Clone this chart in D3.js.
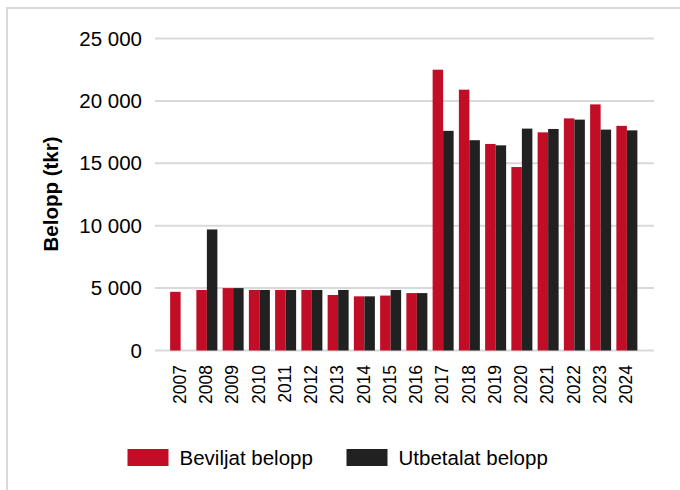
<!DOCTYPE html>
<html>
<head>
<meta charset="utf-8">
<script src="https://cdn.jsdelivr.net/npm/d3@7"></script>
<style>
  body { margin: 0; background: #fff; }
  svg { display: block; font-family: "Liberation Sans", Arial, sans-serif; }
</style>
</head>
<body>
<div id="chart"></div>
<script>
// data (tkr)
var years = ["2007","2008","2009","2010","2011","2012","2013","2014","2015","2016",
             "2017","2018","2019","2020","2021","2022","2023","2024"];
var beviljat = [4700, 4850, 5000, 4850, 4850, 4850, 4450, 4340, 4400, 4600,
                22500, 20900, 16550, 14700, 17480, 18600, 19720, 18000];
var utbetalat = [null, 9700, 5000, 4850, 4850, 4850, 4850, 4340, 4850, 4600,
                 17600, 16850, 16440, 17780, 17750, 18500, 17700, 17640];
var yTicks = [0, 5000, 10000, 15000, 20000, 25000];
var seriesNames = ["Beviljat belopp", "Utbetalat belopp"];
var colours = ["#c10d25", "#212121"];

var width = 680, height = 490;

var svg = d3.select("#chart").append("svg")
  .attr("width", width)
  .attr("height", height);

// frame
svg.append("path")
  .attr("d", "M7,490 V8 H680")
  .attr("fill", "none")
  .attr("stroke", "#d9d9d9")
  .attr("stroke-width", 2);

//scales
var x = d3.scaleBand()
  .domain(years)
  .range([167.5, 640])
  .paddingInner(0.2)
  .paddingOuter(0.1);

var xs = d3.scaleBand()
  .domain([0, 1])
  .range([0, x.bandwidth()]);

var y = d3.scaleLinear()
  .domain([0, 25000])
  .range([350.5, 38.5]);

var fmt = function(v) { return d3.format(",")(v).replace(/,/g, " "); };

//gridlines
svg.append("g")
  .selectAll("line")
  .data(yTicks)
  .enter()
  .append("line")
  .attr("x1", 155)
  .attr("x2", 654)
  .attr("y1", function(d) { return y(d); })
  .attr("y2", function(d) { return y(d); })
  .attr("stroke", "#d9d9d9")
  .attr("stroke-width", 2);

//y axis labels
var yAxis = d3.axisLeft(y).tickValues(yTicks).tickSize(0).tickPadding(0).tickFormat(fmt);
var gy = svg.append("g")
  .attr("transform", "translate(142,0)")
  .call(yAxis);
gy.select(".domain").remove();
gy.selectAll("text")
  .style("font-family", "Liberation Sans, Arial, sans-serif")
  .style("font-size", "20.5px")
  .attr("fill", "#000");

//bars
var groups = svg.append("g")
  .selectAll("g")
  .data(years)
  .enter()
  .append("g")
  .attr("transform", function(d) { return "translate(" + x(d) + ",0)"; });

groups.selectAll("rect")
  .data(function(d, i) { return [beviljat[i], utbetalat[i]]; })
  .enter()
  .filter(function(d) { return d != null; })
  .append("rect")
  .attr("x", function(d, j) { return xs(j); })
  .attr("width", xs.bandwidth())
  .attr("y", function(d) { return y(d); })
  .attr("height", function(d) { return y(0) - y(d); })
  .attr("fill", function(d, j) { return colours[j]; });

//x axis labels
var xAxis = d3.axisBottom(x).tickSize(0).tickPadding(0);
var gx = svg.append("g")
  .attr("transform", "translate(-1,365)")
  .call(xAxis);
gx.select(".domain").remove();
gx.selectAll("text")
  .style("font-family", "Liberation Sans, Arial, sans-serif")
  .style("font-size", "17.5px")
  .attr("fill", "#000")
  .attr("transform", "rotate(-90)")
  .attr("y", 0)
  .attr("x", 0)
  .attr("dy", "0.35em")
  .style("text-anchor", "end");

// y axis title
svg.append("text")
  .attr("transform", "translate(58,194) rotate(-90)")
  .attr("text-anchor", "middle")
  .style("font-size", "20.5px")
  .style("font-weight", "bold")
  .text("Belopp (tkr)");

//legend
var legendX = [127.5, 346.5];
var legend = svg.append("g")
  .selectAll("g")
  .data(seriesNames)
  .enter()
  .append("g")
  .attr("transform", function(d, i) { return "translate(" + legendX[i] + ",449)"; });

legend.append("rect")
  .attr("width", 41)
  .attr("height", 17)
  .attr("fill", function(d, i) { return colours[i]; });

legend.append("text")
  .attr("x", 52)
  .attr("y", 16)
  .style("font-size", "20.5px")
  .text(function(d) { return d; });
</script>
</body>
</html>
